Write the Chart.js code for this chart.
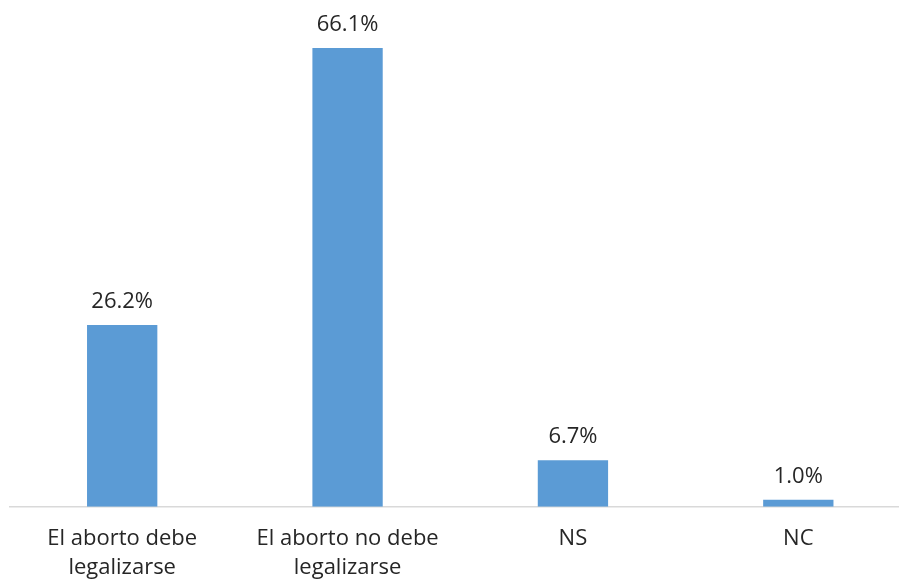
<!DOCTYPE html>
<html>
<head>
<meta charset="utf-8">
<script src="https://cdn.jsdelivr.net/npm/chart.js@4/dist/chart.umd.min.js"></script>
<style>
  html, body { margin: 0; padding: 0; background: #fff; overflow: hidden; }
  #wrap { width: 911px; height: 604px; position: relative; }
</style>
</head>
<body>
<div id="wrap"><canvas id="c"></canvas></div>
<script>
const categories = [["El aborto debe", "legalizarse"], ["El aborto no debe", "legalizarse"], "NS", "NC"];
const values = [26.2, 66.1, 6.7, 1.0];
const valueLabels = ["26.2%", "66.1%", "6.7%", "1.0%"];

const FONT = "'Open Sans', Lato, sans-serif";

const labelPlugin = {
  id: 'valueLabels',
  afterDatasetsDraw(chart) {
    const ctx = chart.ctx;
    const meta = chart.getDatasetMeta(0);
    ctx.save();
    ctx.font = "22px " + FONT;
    ctx.fillStyle = "#262626";
    ctx.textAlign = "center";
    ctx.textBaseline = "alphabetic";
    meta.data.forEach((bar, i) => {
      ctx.fillText(valueLabels[i], bar.x, bar.y - 17);
    });
    ctx.restore();
  }
};

new Chart(document.getElementById('c'), {
  type: 'bar',
  data: {
    labels: categories,
    datasets: [{
      data: values,
      backgroundColor: '#5B9BD5',
      barPercentage: 0.312,
      categoryPercentage: 1.0
    }]
  },
  options: {
    responsive: true,
    maintainAspectRatio: false,
    animation: false,
    layout: { padding: { left: 9.5, right: 0, top: 21, bottom: 4 } },
    plugins: { legend: { display: false }, tooltip: { enabled: false } },
    scales: {
      x: {
        grid: { display: false, drawTicks: false },
        border: { display: true, color: '#d9d9d9', width: 1.5 },
        ticks: {
          color: '#262626',
          font: { family: FONT, size: 22, lineHeight: 1.3 },
          padding: 18,
          maxRotation: 0,
          autoSkip: false
        }
      },
      y: {
        display: false,
        min: 0,
        max: 70
      }
    }
  },
  plugins: [labelPlugin]
});
</script>
</body>
</html>
